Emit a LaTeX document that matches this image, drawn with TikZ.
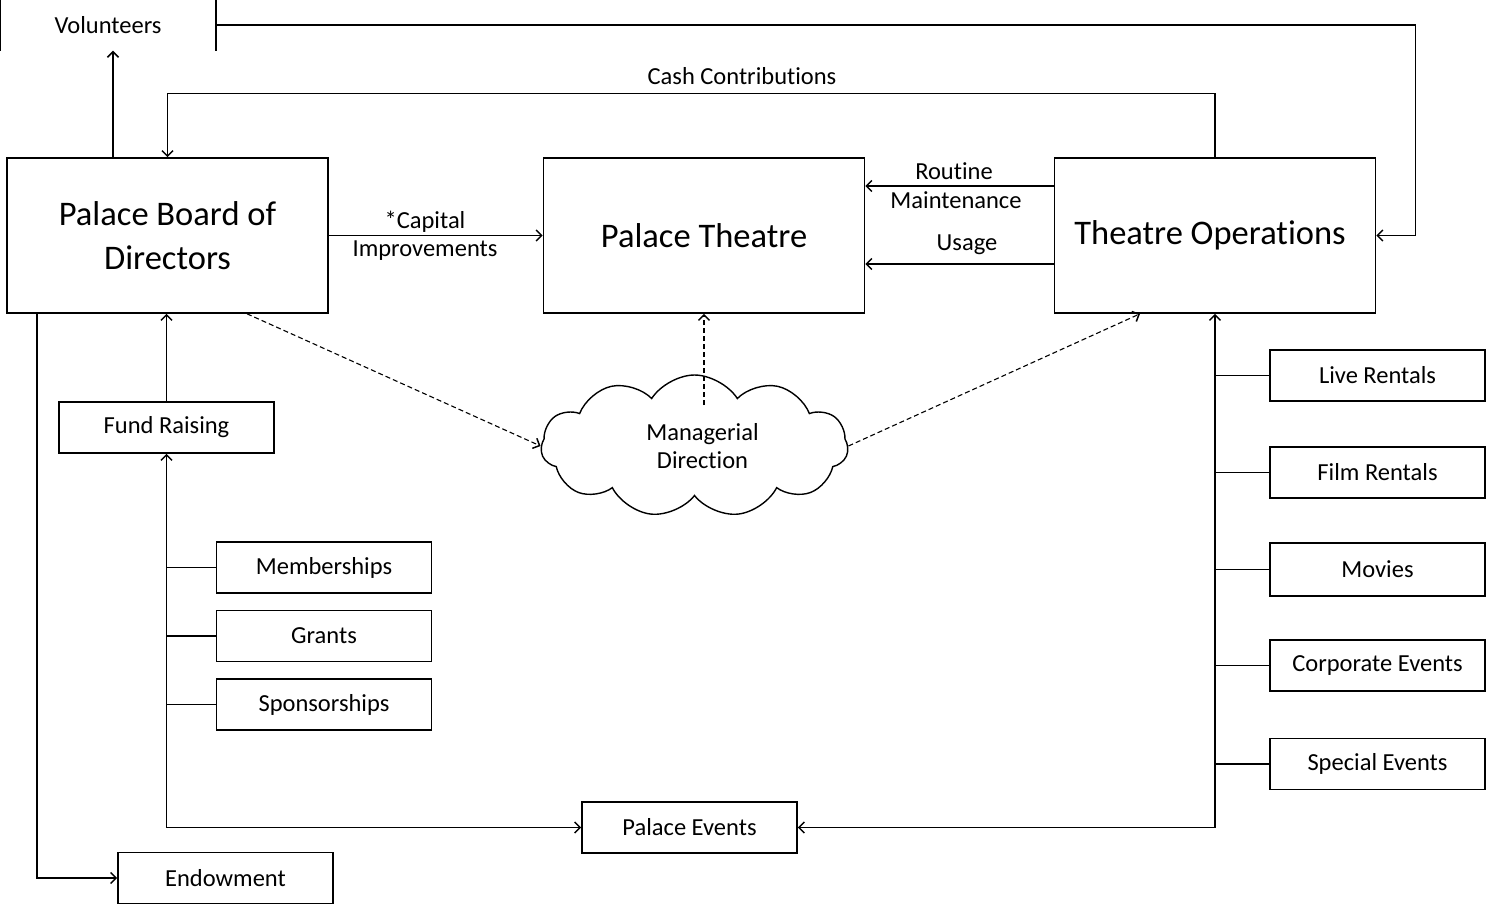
\documentclass[tikz,border=0pt]{standalone}
\usepackage{fontspec}
\setmainfont{Carlito}[Ligatures=NoCommon]
\usetikzlibrary{arrows.meta,shapes.symbols}
\begin{document}
\begin{tikzpicture}[x=1pt,y=-1pt,
  line width=1.4pt,
  box/.style={draw,line width=1.6pt,inner sep=0pt,align=center},
  bigbox/.style={box,minimum width=321pt,minimum height=155pt,font=\fontsize{34.5}{44}\selectfont},
  smallbox/.style={box,minimum width=215pt,minimum height=51pt,font=\fontsize{24.5}{28}\selectfont},
  lbl/.style={inner sep=0pt,align=center,font=\fontsize{24.5}{28}\selectfont},
  arr/.style={-{Straight Barb[length=5.5pt,width=11pt,line width=1.5pt]}},
  arrb/.style={{Straight Barb[length=5.5pt,width=11pt,line width=1.5pt]}-{Straight Barb[length=5.5pt,width=11pt,line width=1.5pt]}},
  dsh/.style={arr,dashed,dash pattern=on 5pt off 3pt,line width=1.1pt}]
\useasboundingbox (0,0) rectangle (1487,905);

% main boxes
\node[bigbox] (board) at (167.5,235.5) {Palace Board of\\Directors};
\node[bigbox] (pt) at (704,235.5) {Palace Theatre};
\node[bigbox] (to) at (1215,235.5) {\hspace*{-10pt}Theatre Operations};

% volunteers (clipped box)
\node[lbl,minimum width=214pt,minimum height=50pt] (vol) at (108,25) {Volunteers};
\draw[line width=1.6pt] (vol.north west) -- (vol.south west);
\draw[line width=1.6pt] (vol.north east) -- (vol.south east);

% left side boxes
\node[smallbox] (fr) at (166.5,427.5) {Fund Raising};
\node[smallbox] (mem) at (324,567.5) {Memberships};
\node[smallbox] (gr) at (324,636) {Grants};
\node[smallbox] (sp) at (324,704.5) {Sponsorships};
\node[smallbox] (pe) at (689.5,827.5) {Palace Events};
\node[smallbox] (en) at (225.5,878) {Endowment};

% right side boxes
\node[smallbox] (lr) at (1377.5,375.5) {Live Rentals};
\node[smallbox] (fl) at (1377.5,472.5) {Film Rentals};
\node[smallbox,minimum height=53pt] (mv) at (1377.5,569.5) {Movies};
\node[smallbox] (ce) at (1377.5,665.5) {Corporate Events};
\node[smallbox] (se) at (1377.5,764) {Special Events};

% cloud
\node[cloud,draw,line width=1.4pt,cloud puffs=11,cloud puff arc=115,aspect=2.2,
      minimum width=307pt,minimum height=142pt,inner sep=0pt,align=center,
      font=\fontsize{24.5}{28}\selectfont] (cl) at (694.5,446)
      {\hspace*{16pt}Managerial\\\hspace*{16pt}Direction};

% connectors top
\draw[arr] ([xshift=-54.5pt]board.north) -- ([xshift=5pt]vol.south);
\draw[arr] (to.north) -- ++(0,-64) coordinate (cc) -| (board.north);
\node[lbl] (cashlbl) at (742,76) {Cash Contributions};
\draw[arr] (vol.east) -- ++(1200,0) |- (to.east);

% between main boxes
\draw[arr] (board.east) -- (pt.west);
\node[lbl] (capa) at (425,222) {*Capital};
\node[lbl] (capb) at (425,251) {Improvements};
\draw[arr] ([yshift=49.5pt]to.west) -- ([yshift=49.5pt]pt.east);
\node[lbl] (rma) at (954,171) {Routine};
\node[lbl] (rmb) at (956,200) {Maintenance};
\draw[arr] ([yshift=-28.5pt]to.west) -- ([yshift=-28.5pt]pt.east);
\node[lbl] (us) at (967,245) {Usage};

% dashed managerial
\draw[dsh] ([xshift=9.5pt,yshift=41pt]cl.center) -- (pt.south);
\draw[dsh] ([xshift=79.5pt]board.south) -- (cl.west);
\draw[dsh] (cl.east) -- ([xshift=-75pt]to.south);

% left tree
\draw[arr] (fr.north) -- (board.south -| fr.north);
\draw[arrb] (fr.south) |- (pe.west);
\draw (mem.west) -- (mem.west -| fr.south);
\draw (gr.west) -- (gr.west -| fr.south);
\draw (sp.west) -- (sp.west -| fr.south);
\draw[arr] ([xshift=-130.5pt]board.south) |- (en.west);

% right tree
\draw[arrb] (to.south) |- (pe.east);
\draw (lr.west) -- (lr.west -| to.south);
\draw (fl.west) -- (fl.west -| to.south);
\draw (mv.west) -- (mv.west -| to.south);
\draw (ce.west) -- (ce.west -| to.south);
\draw (se.west) -- (se.west -| to.south);
\end{tikzpicture}
\end{document}
